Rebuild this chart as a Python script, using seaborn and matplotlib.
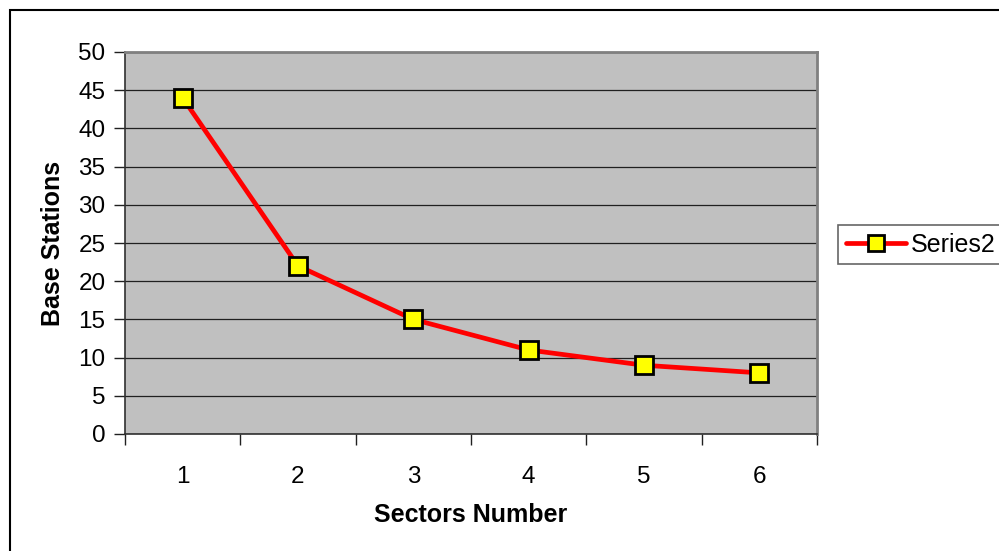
import matplotlib
matplotlib.use("Agg")
import matplotlib.pyplot as plt
from matplotlib.patches import Rectangle
from matplotlib.lines import Line2D
import seaborn as sns
import pandas as pd

sectors = [1, 2, 3, 4, 5, 6]
base_stations = [44, 22, 15, 11, 9, 8]
y_ticks = [0, 5, 10, 15, 20, 25, 30, 35, 40, 45, 50]
series_name = "Series2"

sns.set_theme(style="white")
plt.rcParams["font.family"] = ["Liberation Sans", "DejaVu Sans"]
plt.rcParams.update({"text.color": "black", "axes.labelcolor": "black",
                     "xtick.color": "black", "ytick.color": "black"})

df = pd.DataFrame({"Sectors Number": sectors, "Base Stations": base_stations})

fig = plt.figure(figsize=(9.99, 5.51), dpi=100)
ax = fig.add_axes([125 / 999, 1 - 434 / 551, (817 - 125) / 999, (434 - 52) / 551])
ax.set_facecolor("#C0C0C0")

sns.lineplot(data=df, x="Sectors Number", y="Base Stations", ax=ax,
             color="#FF0000", linewidth=3.4, marker="s", markersize=13.5,
             markerfacecolor="#FFFF00", markeredgecolor="black",
             markeredgewidth=2.0, zorder=3)

ax.set_xlim(0.5, 6.5)
ax.set_ylim(0, 50)
ax.set_yticks(y_ticks)
ax.set_yticklabels([str(v) for v in y_ticks], fontsize=17.5)
ax.yaxis.grid(True, color="#202020", linewidth=0.9)
ax.set_axisbelow(True)

# category boundaries carry the tick marks, labels sit at bin centres
ax.set_xticks([s - 0.5 for s in sectors] + [sectors[-1] + 0.5])
ax.set_xticklabels([])
ax.set_xticks(sectors, minor=True)
ax.set_xticklabels([str(s) for s in sectors], minor=True, fontsize=17.5)
ax.tick_params(axis="x", which="major", direction="out", length=8, width=1,
               color="#202020", bottom=True)
ax.tick_params(axis="x", which="minor", length=0, pad=23)
ax.tick_params(axis="y", direction="out", length=8, width=1, color="#202020",
               left=True, pad=6)

for side in ("left", "bottom"):
    ax.spines[side].set_color("#303030")
    ax.spines[side].set_linewidth(1.2)
for side in ("top", "right"):
    ax.spines[side].set_visible(True)
    ax.spines[side].set_color("#808080")
    ax.spines[side].set_linewidth(2)

ax.set_xlabel("Sectors Number", fontsize=18, fontweight="bold", labelpad=11)
ax.set_ylabel("Base Stations", fontsize=18, fontweight="bold", labelpad=10)

handle = Line2D([], [], color="#FF0000", linewidth=3.4, marker="s",
                markersize=12, markerfacecolor="#FFFF00",
                markeredgecolor="black", markeredgewidth=2.0)
leg = fig.legend([handle], [series_name], loc="upper left",
                 bbox_to_anchor=(838 / 999, 1 - 225 / 551), fontsize=18,
                 frameon=True, fancybox=False, borderpad=0.3,
                 handlelength=2.4, handletextpad=0.2, borderaxespad=0)
leg.get_frame().set_edgecolor("#404040")
leg.get_frame().set_linewidth(1.2)

# chart border
fig.patches.append(Rectangle((10 / 999, -0.1), 1.2, 1.1 - 10 / 551,
                             transform=fig.transFigure, fill=False,
                             edgecolor="black", linewidth=1.5))

fig.savefig("out.png", dpi=100)
